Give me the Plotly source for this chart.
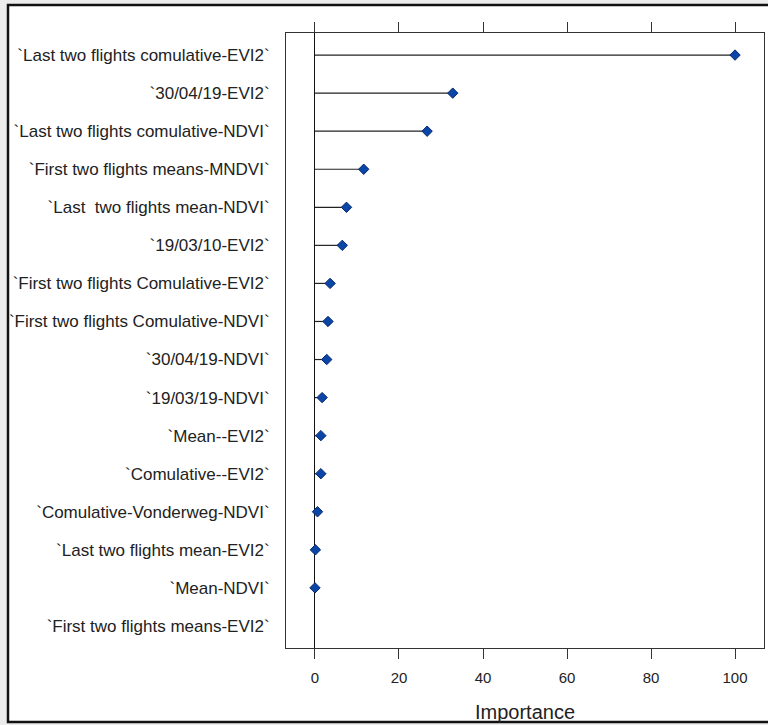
import plotly.graph_objects as go

features = [
    "`Last two flights comulative-EVI2`",
    "`30/04/19-EVI2`",
    "`Last two flights comulative-NDVI`",
    "`First two flights means-MNDVI`",
    "`Last \u00a0two flights mean-NDVI`",
    "`19/03/10-EVI2`",
    "`First two flights Comulative-EVI2`",
    "`First two flights Comulative-NDVI`",
    "`30/04/19-NDVI`",
    "`19/03/19-NDVI`",
    "`Mean--EVI2`",
    "`Comulative--EVI2`",
    "`Comulative-Vonderweg-NDVI`",
    "`Last two flights mean-EVI2`",
    "`Mean-NDVI`",
    "`First two flights means-EVI2`",
]
importance = [100, 32.8, 26.7, 11.6, 7.5, 6.5, 3.6, 3.1, 2.8, 1.7, 1.4, 1.4, 0.6, 0.1, 0.0, None]
x_ticks = [0, 20, 40, 60, 80, 100]

seg_x, seg_y = [], []
for f, v in zip(features, importance):
    if v is None:
        continue
    seg_x += [0, v, None]
    seg_y += [f, f, None]

fig = go.Figure()
fig.add_trace(go.Scatter(x=seg_x, y=seg_y, mode="lines",
                         line=dict(color="#222222", width=1.2),
                         hoverinfo="skip", showlegend=False))
pts = [(f, v) for f, v in zip(features, importance) if v is not None]
fig.add_trace(go.Scatter(x=[p[1] for p in pts], y=[p[0] for p in pts], mode="markers",
                         marker=dict(symbol="diamond", size=8, color="#0a45a8",
                                     line=dict(color="#0a2a6a", width=1)),
                         showlegend=False))

font_family = "Liberation Sans, Arial, sans-serif"
fig.update_layout(
    width=768, height=725,
    margin=dict(l=286, r=4, t=33, b=77),
    paper_bgcolor="white", plot_bgcolor="white",
    font=dict(family=font_family, color="#222222"),
    xaxis=dict(
        range=[-6.9, 106.9], tickvals=x_ticks, ticktext=[str(t) for t in x_ticks],
        ticks="outside", ticklen=10, tickcolor="#333333", tickwidth=1,
        showline=True, linecolor="#333333", linewidth=1, mirror="ticks",
        showgrid=False, zeroline=True, zerolinecolor="#111111", zerolinewidth=1.2,
        tickfont=dict(size=15, color="#222222"), ticklabelstandoff=6,
        title=dict(text="Importance", font=dict(size=20, color="#222222"), standoff=19),
    ),
    yaxis=dict(
        type="category", categoryorder="array", categoryarray=features,
        range=[15.58, -0.58], ticks="", showline=True, linecolor="#333333",
        linewidth=1, mirror=True, showgrid=False, zeroline=False,
        tickfont=dict(size=17, color="#222222"), ticklabelstandoff=12,
    ),
)
# outer frame (pixel positions converted to paper coordinates)
pw, ph = 768 - 286 - 4, 725 - 33 - 77
def px(x):
    return (x - 286) / pw
def py(y):
    return (725 - 77 - y) / ph
fig.add_shape(type="rect", xref="paper", yref="paper", x0=px(0), x1=px(768), y0=py(725), y1=py(0),
              line=dict(width=0), fillcolor="#ececec", layer="below")
fig.add_shape(type="rect", xref="paper", yref="paper", x0=px(8), x1=px(772), y0=py(722), y1=py(5),
              line=dict(width=2.5, color="#111111"), fillcolor="white", layer="below")

fig.write_html("out.html")
